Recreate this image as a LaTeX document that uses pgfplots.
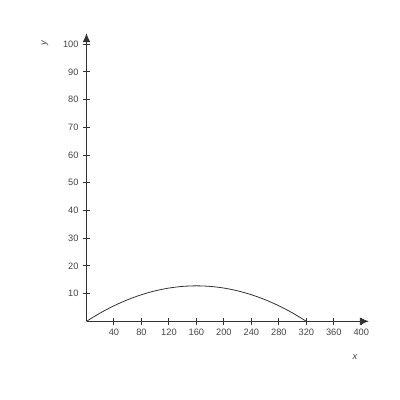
\documentclass[border=0pt]{standalone}
\usepackage{fontspec}
\setmainfont{Liberation Sans}
\usepackage{pgfplots}
\pgfplotsset{compat=1.18}
\usetikzlibrary{arrows.meta}
\definecolor{txt}{HTML}{444444}
\definecolor{ax}{HTML}{333333}
\begin{document}
\begin{tikzpicture}[x=1bp,y=1bp]
\useasboundingbox (0,0) rectangle (400,400);
\begin{axis}[
  at={(86.5bp,78.7bp)}, anchor=origin,
  x=0.687bp, y=2.77bp,
  axis lines=middle,
  xmin=0, xmax=411, ymin=0, ymax=104,
  axis line style={ax, line width=1pt, -{Latex[length=9bp,width=8bp]}},
  xtick={40,80,...,400}, ytick={10,20,...,100},
  tick style={ax, line width=1pt},
  major tick length=7bp,
  tick align=center,
  every tick label/.append style={font=\fontsize{9.3}{11}\selectfont, text=txt},
  /pgf/number format/assume math mode=true,
  xticklabel style={yshift=-1bp},
  yticklabel style={xshift=-1bp},
  clip=false,
]
\addplot[ax, line width=0.8pt, smooth] coordinates {
(0,0) (20,3.0) (40,5.6) (60,7.8) (80,9.6) (100,11) (120,12) (140,12.6) (160,12.8)
(180,12.6) (200,12) (220,11) (240,9.6) (260,7.8) (280,5.6) (300,3.0) (320,0)};
\end{axis}
\node[text=txt, font=\fontsize{9.3}{11}\itshape, rotate=90] at (45,357) {y};
\node[text=txt, font=\fontsize{9.3}{11}\itshape] at (355,43) {x};
\end{tikzpicture}
\end{document}
